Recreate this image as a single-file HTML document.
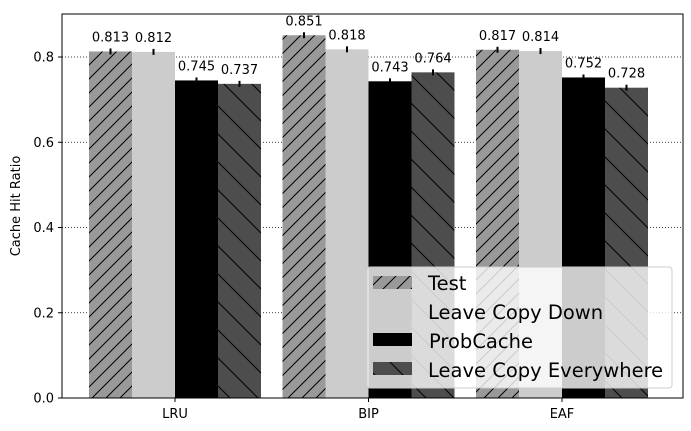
<!DOCTYPE html>
<html><head><meta charset="utf-8"><style>body{margin:0;background:#fff}svg{display:block;font-family:"DejaVu Sans","Liberation Sans",sans-serif}</style></head>
<body>
<svg id="c" width="691" height="431">
<defs>
<pattern id="hf" patternUnits="userSpaceOnUse" width="14" height="14"><rect width="14" height="14" fill="#999"/><path d="M-2,2 L2,-2 M0,14 L14,0 M12,16 L16,12" stroke="#000" stroke-width="1"/></pattern>
<pattern id="hb" patternUnits="userSpaceOnUse" width="28" height="28"><rect width="28" height="28" fill="#4d4d4d"/><path d="M-2,26 L2,30 M0,0 L28,28 M26,-2 L30,2" stroke="#000" stroke-width="1"/></pattern>
</defs>
<g id="grid"></g><g id="bars"></g><g id="labels"></g>
<rect x="62" y="14" width="621" height="384" fill="none" stroke="#000" stroke-width="1"/>
<g id="axes"></g>
<text x="20" y="206" font-size="13" text-anchor="middle" transform="rotate(-90 20 206)">Cache Hit Ratio</text>
<g>
<rect x="367" y="267" width="305" height="121" rx="3" fill="#fff" fill-opacity="0.8" stroke="#ccc"/>
<g font-size="19.5">
<rect x="373" y="276" width="39" height="13" fill="url(#hf)"/>
<text x="428" y="290">Test</text>
<rect x="373" y="305" width="39" height="13" fill="#ccc"/>
<text x="428" y="319">Leave Copy Down</text>
<rect x="373" y="333" width="39" height="13" fill="#000"/>
<text x="429" y="348">ProbCache</text>
<rect x="373" y="362" width="39" height="13" fill="url(#hb)"/>
<text x="428" y="377">Leave Copy Everywhere</text>
</g></g>
</svg>
<script>
const categories=["LRU","BIP","EAF"];
const seriesNames=["Test","Leave Copy Down","ProbCache","Leave Copy Everywhere"];
const test=[0.813,0.851,0.817];
const lcd=[0.812,0.818,0.814];
const probcache=[0.745,0.743,0.752];
const lce=[0.737,0.764,0.728];
const errors=[0.007,0.007,0.007];
const yTicks=[0,0.2,0.4,0.6,0.8];
const series=[test,lcd,probcache,lce];
const fills=["url(#hf)","#ccc","#000","url(#hb)"];
const NS="http://www.w3.org/2000/svg";
const y=v=>398-v*426.25;
const x0=i=>89+i*193.5;
const bw=43;
function mk(t,a,p){const e=document.createElementNS(NS,t);for(const k in a)e.setAttribute(k,a[k]);p.appendChild(e);return e;}
const grid=document.getElementById('grid'),axes=document.getElementById('axes'),bars=document.getElementById('bars'),labels=document.getElementById('labels');
yTicks.forEach(t=>{
 if(t>0){const g=mk('line',{x1:62,x2:683,y1:y(t),y2:y(t),stroke:'#000','stroke-width':0.8,'stroke-dasharray':'1,2'},grid);
 
 }
 const tk=mk('line',{x1:58,x2:62,y1:y(t),y2:y(t),stroke:'#000'},axes);
 
 
 const l=mk('text',{x:54,y:y(t)+4.5,'font-size':13,'text-anchor':'end'},axes);l.textContent=t.toFixed(1);
 
 
});
categories.forEach((c,i)=>{
 const cx=x0(i)+2*bw;
 const tk=mk('line',{x1:cx,x2:cx,y1:398,y2:402,stroke:'#000'},axes);
 
 
 const l=mk('text',{x:cx,y:418,'font-size':13,'text-anchor':'middle'},axes);l.textContent=c;
 
 
 series.forEach((s,j)=>{
  const v=s[i],bx=x0(i)+j*bw;
  const r=mk('rect',{x:bx,y:y(v),width:bw,height:398-y(v),fill:fills[j]},bars);
  
  
  const e=mk('line',{x1:bx+bw/2,x2:bx+bw/2,y1:y(v+errors[i]),y2:y(v-errors[i]),stroke:'#000','stroke-width':2},labels);
  
  
  const t=mk('text',{x:bx+bw/2,y:y(v)-10,'font-size':13,'text-anchor':'middle'},labels);t.textContent=v.toFixed(3);
  
  
 });
});
</script>
</body></html>
